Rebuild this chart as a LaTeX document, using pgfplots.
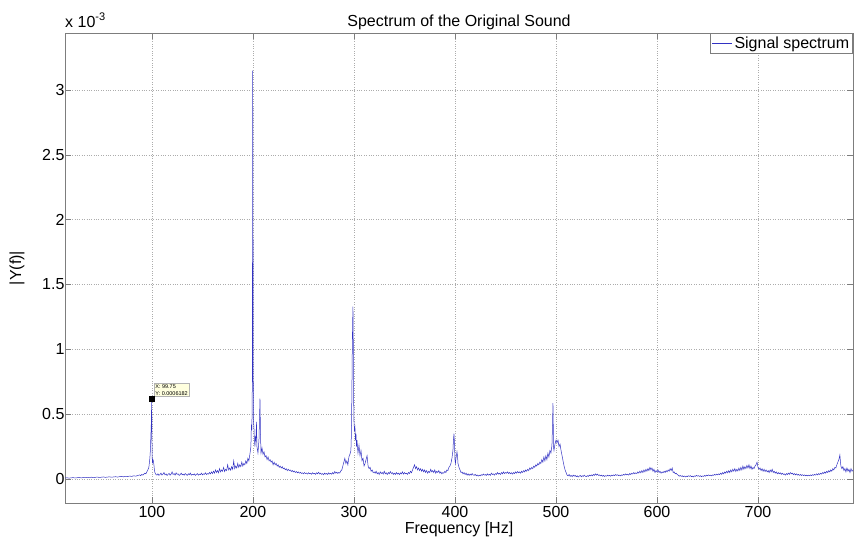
\documentclass[border=0pt]{standalone}
\usepackage{fontspec}
\setmainfont{Liberation Sans}
\usepackage{pgfplots}
\pgfplotsset{compat=1.18}
\definecolor{sig}{RGB}{50,50,195}
\definecolor{axgray}{RGB}{125,125,125}
\definecolor{tipfill}{RGB}{255,255,222}
\begin{document}
\begin{tikzpicture}
\begin{axis}[
    name=spec,
    scale only axis,
    width=788bp, height=470bp,
    xmin=14, xmax=794,
    ymin=-0.185, ymax=3.44,
    xtick={100,200,300,400,500,600,700},
    ytick={0,0.5,1,1.5,2,2.5,3},
    yticklabels={0,0.5,1,1.5,2,2.5,3},
    tick pos=both,
    tick align=inside,
    major tick length=6bp,
    tick style={axgray, line width=0.6bp},
    axis line style={axgray, line width=0.8bp},
    grid=major,
    grid style={dotted, gray!65, line width=0.6bp},
    /pgf/number format/assume math mode=true,
    tick label style={font=\fontsize{16bp}{19bp}\selectfont, black},
    yticklabel style={xshift=3bp},
    label style={font=\fontsize{16bp}{19bp}\selectfont},
    xlabel={Frequency [Hz]},
    ylabel={|Y(f)|},
    xlabel style={yshift=3bp},
    ylabel style={at={(rel axis cs:0,0.5)}, anchor=south, yshift=37bp},
    title={Spectrum of the Original Sound},
    title style={font=\fontsize{16bp}{19bp}\selectfont, yshift=-6bp},
    legend style={
        at={(1,1)}, anchor=north east,
        draw=axgray, line width=0.6bp, fill=white,
        font=\fontsize{16bp}{19bp}\selectfont,
        inner sep=1.5bp, row sep=0pt,
    },
    legend cell align=left,
    legend image code/.code={\draw[#1] (0bp,0bp) -- (20bp,0bp);},
]

% --- spectrum (values in units of 1e-3) ---
\addplot[sig, line width=0.5bp] coordinates {
(14,0.008) (16,0.010) (18,0.007) (20,0.009) (22,0.011) (24,0.008) (26,0.010) (28,0.012) (30,0.009) (32,0.011)
(34,0.013) (36,0.010) (38,0.012) (40,0.014) (42,0.011) (44,0.013) (46,0.015) (48,0.012) (50,0.014) (52,0.016)
(54,0.013) (56,0.015) (58,0.017) (60,0.014) (62,0.016) (64,0.018) (66,0.015) (68,0.018) (70,0.020) (72,0.017)
(74,0.021) (76,0.019) (78,0.023) (80,0.020) (82,0.025) (84,0.022) (86,0.027) (88,0.032) (89,0.026) (90,0.035)
(91,0.030) (92,0.038) (93,0.045) (94,0.040) (95,0.055) (96,0.070) (97,0.09) (98,0.16) (98.5,0.22) (99,0.33)
(99.5,0.45) (99.75,0.6182) (100,0.35) (100.25,0.18) (100.5,0.12) (101,0.15) (101.5,0.14) (102,0.11) (102.5,0.07) (103,0.05)
(104,0.035) (105,0.03) (106,0.04) (107,0.028) (108,0.035) (109,0.045) (110,0.03) (111,0.038) (112,0.05) (113,0.032)
(114,0.04) (115,0.028) (116,0.036) (117,0.044) (118,0.03) (119,0.038) (120,0.055) (121,0.035) (122,0.042) (123,0.03)
(124,0.048) (125,0.036) (126,0.04) (127,0.028) (128,0.034) (129,0.045) (130,0.032) (131,0.038) (132,0.03) (133,0.042)
(134,0.035) (135,0.028) (136,0.04) (137,0.033) (138,0.046) (139,0.03) (140,0.036) (141,0.032) (142,0.04) (143,0.028)
(144,0.035) (145,0.042) (146,0.03) (147,0.038) (148,0.034) (149,0.045) (150,0.032) (151,0.04) (152,0.036) (153,0.048)
(154,0.035) (155,0.042) (156,0.038) (157,0.05) (158,0.04) (159,0.055) (160,0.042) (161,0.06) (162,0.045) (163,0.07)
(164,0.05) (165,0.065) (166,0.048) (167,0.08) (168,0.055) (169,0.07) (170,0.06) (171,0.09) (172,0.058) (173,0.075)
(174,0.065) (175,0.11) (176,0.07) (177,0.085) (178,0.068) (179,0.095) (180,0.075) (181,0.14) (182,0.08) (183,0.1)
(184,0.085) (185,0.12) (186,0.09) (187,0.11) (188,0.095) (189,0.13) (190,0.1) (191,0.12) (192,0.11) (193,0.14)
(194,0.12) (195,0.16) (196,0.14) (197,0.19) (198,0.25) (198.5,0.42) (199,0.38) (199.5,0.8) (199.75,3.15) (200,2.36)
(200.25,0.9) (200.5,0.45) (201,0.4) (201.5,0.3) (202,0.25) (202.5,0.32) (203,0.3) (203.5,0.44) (204,0.25) (205,0.2)
(206,0.3) (206.5,0.45) (207,0.62) (207.5,0.35) (208,0.2) (209,0.24) (210,0.19) (211,0.21) (212,0.17) (213,0.18)
(214,0.15) (215,0.17) (216,0.14) (217,0.15) (218,0.13) (219,0.14) (220,0.11) (221,0.13) (222,0.11) (223,0.12)
(224,0.1) (225,0.11) (226,0.09) (227,0.1) (228,0.085) (229,0.095) (230,0.08) (231,0.085) (232,0.072) (233,0.08)
(234,0.065) (235,0.075) (236,0.065) (237,0.07) (238,0.058) (239,0.066) (240,0.055) (241,0.062) (242,0.05) (243,0.058)
(244,0.048) (245,0.055) (246,0.045) (247,0.052) (248,0.043) (249,0.048) (250,0.04) (251,0.05) (252,0.042) (253,0.046)
(254,0.038) (255,0.048) (256,0.041) (257,0.045) (258,0.037) (259,0.048) (260,0.04) (261,0.044) (262,0.036) (263,0.048)
(264,0.04) (265,0.052) (266,0.039) (267,0.045) (268,0.036) (269,0.042) (270,0.033) (271,0.046) (272,0.037) (273,0.043)
(274,0.035) (275,0.048) (276,0.038) (277,0.044) (278,0.037) (279,0.05) (280,0.04) (281,0.058) (282,0.045) (283,0.053)
(284,0.043) (285,0.05) (286,0.046) (287,0.063) (288,0.07) (289,0.1) (290,0.13) (291,0.16) (292,0.12) (293,0.14)
(294,0.11) (295,0.17) (296,0.19) (297,0.22) (297.5,0.35) (298,0.7) (298.5,1.1) (299,1.33) (299.25,1.2) (299.5,0.75)
(300,0.45) (300.5,0.38) (301,0.4) (301.5,0.3) (302,0.35) (302.5,0.25) (303,0.3) (304,0.2) (305,0.26) (306,0.18)
(307,0.22) (308,0.14) (309,0.16) (310,0.1) (311,0.12) (312,0.15) (313,0.18) (314,0.1) (315,0.08) (316,0.09)
(317,0.06) (318,0.07) (319,0.05) (320,0.055) (321,0.045) (322,0.06) (323,0.04) (324,0.05) (325,0.035) (326,0.055)
(327,0.042) (328,0.05) (329,0.038) (330,0.06) (331,0.04) (332,0.048) (333,0.035) (334,0.05) (335,0.04) (336,0.058)
(337,0.042) (338,0.05) (339,0.036) (340,0.045) (341,0.035) (342,0.05) (343,0.038) (344,0.046) (345,0.034) (346,0.048)
(347,0.04) (348,0.055) (349,0.038) (350,0.05) (351,0.04) (352,0.045) (353,0.036) (354,0.05) (355,0.042) (356,0.06)
(357,0.048) (358,0.07) (359,0.09) (360,0.11) (361,0.08) (362,0.095) (363,0.07) (364,0.085) (365,0.065) (366,0.08)
(367,0.06) (368,0.075) (369,0.055) (370,0.07) (371,0.05) (372,0.065) (373,0.045) (374,0.06) (375,0.05) (376,0.075)
(377,0.055) (378,0.065) (379,0.05) (380,0.07) (381,0.045) (382,0.06) (383,0.05) (384,0.065) (385,0.045) (386,0.055)
(387,0.04) (388,0.05) (389,0.045) (390,0.06) (391,0.05) (392,0.07) (393,0.065) (394,0.09) (395,0.1) (396,0.12)
(397,0.16) (398,0.22) (398.5,0.3) (399,0.35) (399.5,0.28) (400,0.15) (400.5,0.12) (401,0.16) (402,0.21) (402.5,0.18)
(403,0.12) (404,0.09) (405,0.07) (406,0.05) (407,0.055) (408,0.04) (409,0.05) (410,0.035) (411,0.045) (412,0.03)
(413,0.04) (414,0.028) (415,0.038) (416,0.03) (417,0.042) (418,0.032) (419,0.028) (420,0.036) (421,0.025) (422,0.032)
(423,0.022) (424,0.03) (425,0.025) (426,0.034) (427,0.028) (428,0.038) (429,0.03) (430,0.035) (431,0.027) (432,0.04)
(433,0.03) (434,0.036) (435,0.028) (436,0.045) (437,0.035) (438,0.04) (439,0.03) (440,0.042) (441,0.035) (442,0.05)
(443,0.038) (444,0.045) (445,0.035) (446,0.05) (447,0.04) (448,0.055) (449,0.042) (450,0.05) (451,0.045) (452,0.055)
(453,0.042) (454,0.05) (455,0.04) (456,0.048) (457,0.038) (458,0.05) (459,0.042) (460,0.055) (461,0.045) (462,0.058)
(463,0.048) (464,0.055) (465,0.045) (466,0.06) (467,0.05) (468,0.065) (469,0.055) (470,0.07) (471,0.06) (472,0.075)
(473,0.065) (474,0.085) (475,0.075) (476,0.09) (477,0.08) (478,0.1) (479,0.09) (480,0.11) (481,0.1) (482,0.12)
(483,0.11) (484,0.13) (485,0.12) (486,0.15) (487,0.13) (488,0.17) (489,0.14) (490,0.18) (491,0.15) (492,0.2)
(493,0.17) (494,0.22) (495,0.2) (496,0.26) (496.5,0.4) (497,0.585) (497.25,0.45) (497.5,0.25) (498,0.22) (499,0.27)
(500,0.3) (501,0.28) (502,0.3) (503,0.25) (504,0.27) (505,0.22) (506,0.18) (507,0.14) (508,0.1) (509,0.07)
(510,0.05) (511,0.03) (512,0.025) (513,0.035) (514,0.02) (515,0.028) (516,0.018) (517,0.03) (518,0.022) (519,0.028)
(520,0.018) (521,0.025) (522,0.015) (523,0.022) (524,0.028) (525,0.018) (526,0.025) (527,0.02) (528,0.03) (529,0.022)
(530,0.018) (531,0.026) (532,0.02) (533,0.03) (534,0.024) (535,0.032) (536,0.025) (537,0.035) (538,0.028) (539,0.04)
(540,0.03) (541,0.038) (542,0.028) (543,0.032) (544,0.024) (545,0.03) (546,0.022) (547,0.028) (548,0.02) (549,0.026)
(550,0.022) (551,0.03) (552,0.024) (553,0.028) (554,0.022) (555,0.03) (556,0.025) (557,0.032) (558,0.026) (559,0.035)
(560,0.028) (561,0.033) (562,0.026) (563,0.03) (564,0.024) (565,0.032) (566,0.028) (567,0.036) (568,0.03) (569,0.04)
(570,0.032) (571,0.038) (572,0.03) (573,0.042) (574,0.035) (575,0.045) (576,0.038) (577,0.05) (578,0.04) (579,0.048)
(580,0.042) (581,0.055) (582,0.045) (583,0.06) (584,0.048) (585,0.065) (586,0.05) (587,0.07) (588,0.055) (589,0.075)
(590,0.06) (591,0.08) (592,0.065) (593,0.09) (594,0.07) (595,0.085) (596,0.06) (597,0.075) (598,0.05) (599,0.065)
(600,0.055) (601,0.07) (602,0.05) (603,0.06) (604,0.045) (605,0.055) (606,0.048) (607,0.06) (608,0.05) (609,0.065)
(610,0.055) (611,0.07) (612,0.06) (613,0.08) (614,0.065) (615,0.085) (616,0.05) (617,0.055) (618,0.04) (619,0.045)
(620,0.035) (621,0.03) (622,0.022) (623,0.028) (624,0.02) (625,0.025) (626,0.018) (627,0.024) (628,0.016) (629,0.022)
(630,0.018) (631,0.025) (632,0.02) (633,0.026) (634,0.018) (635,0.022) (636,0.016) (637,0.024) (638,0.02) (639,0.028)
(640,0.022) (641,0.026) (642,0.02) (643,0.025) (644,0.018) (645,0.024) (646,0.02) (647,0.028) (648,0.022) (649,0.03)
(650,0.025) (651,0.032) (652,0.026) (653,0.03) (654,0.024) (655,0.032) (656,0.028) (657,0.036) (658,0.03) (659,0.038)
(660,0.032) (661,0.04) (662,0.034) (663,0.045) (664,0.036) (665,0.05) (666,0.04) (667,0.055) (668,0.045) (669,0.06)
(670,0.048) (671,0.065) (672,0.05) (673,0.07) (674,0.055) (675,0.075) (676,0.06) (677,0.08) (678,0.058) (679,0.075)
(680,0.062) (681,0.085) (682,0.065) (683,0.09) (684,0.07) (685,0.1) (686,0.075) (687,0.095) (688,0.08) (689,0.105)
(690,0.085) (691,0.11) (692,0.08) (693,0.1) (694,0.075) (695,0.09) (696,0.08) (697,0.1) (698,0.11) (699,0.13)
(700,0.09) (701,0.075) (702,0.085) (703,0.065) (704,0.08) (705,0.06) (706,0.075) (707,0.058) (708,0.07) (709,0.055)
(710,0.065) (711,0.05) (712,0.07) (713,0.055) (714,0.075) (715,0.05) (716,0.06) (717,0.045) (718,0.055) (719,0.04)
(720,0.05) (721,0.04) (722,0.048) (723,0.036) (724,0.045) (725,0.035) (726,0.04) (727,0.03) (728,0.042) (729,0.034)
(730,0.046) (731,0.036) (732,0.05) (733,0.04) (734,0.045) (735,0.034) (736,0.042) (737,0.032) (738,0.04) (739,0.03)
(740,0.036) (741,0.028) (742,0.035) (743,0.027) (744,0.034) (745,0.026) (746,0.032) (747,0.025) (748,0.03) (749,0.024)
(750,0.03) (751,0.025) (752,0.032) (753,0.026) (754,0.034) (755,0.028) (756,0.036) (757,0.03) (758,0.04) (759,0.032)
(760,0.042) (761,0.035) (762,0.045) (763,0.038) (764,0.05) (765,0.042) (766,0.055) (767,0.045) (768,0.06) (769,0.05)
(770,0.065) (771,0.055) (772,0.07) (773,0.06) (774,0.08) (775,0.07) (776,0.09) (777,0.085) (778,0.11) (779,0.13)
(780,0.15) (781,0.185) (781.5,0.14) (782,0.1) (783,0.08) (784,0.095) (785,0.065) (786,0.08) (787,0.055) (788,0.085)
(789,0.06) (790,0.075) (791,0.05) (792,0.08) (793,0.06) (794,0.07)
};
\addlegendentry{Signal spectrum}

% --- data tip ---
\addplot[black, only marks, mark=square*, mark size=2.2bp, forget plot] coordinates {(99.75,0.6182)};
\node[anchor=south west, draw=gray!60, fill=tipfill, line width=0.4bp,
      font=\fontsize{5.5bp}{6.5bp}\selectfont, align=left, inner sep=1.5bp]
  at (axis cs:99.75,0.6182) [xshift=2bp, yshift=2bp] {X: 99.75\\Y: 0.0006182};
\end{axis}

% scale factor above the y axis
\node[anchor=south west, font=\fontsize{16bp}{19bp}\selectfont, inner sep=0pt]
  at ([yshift=5bp]spec.north west) {x 10\raisebox{7bp}{\fontsize{11bp}{13bp}\selectfont -3}};

% page margins as in the reference
\path (spec.south west) ++(-65bp,-38bp) (spec.north east) ++(6bp,33bp);
\end{tikzpicture}
\end{document}
